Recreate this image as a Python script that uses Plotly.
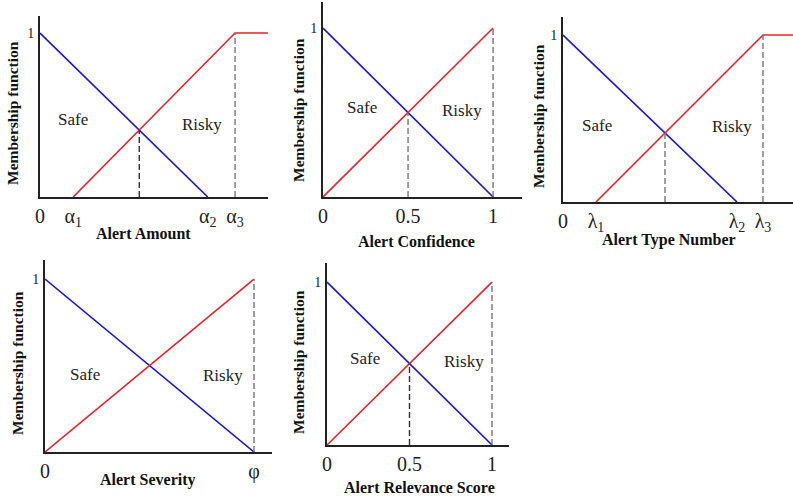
import plotly.graph_objects as go

# ---------------- data ----------------
# Panel 1: Alert Amount (alpha breakpoints)
amount_safe_x = [0.0, 0.86]
amount_safe_y = [1.0, 0.0]
amount_risky_x = [0.17, 1.0, 1.17]
amount_risky_y = [0.0, 1.0, 1.0]
amount_cross = [0.509, 0.408]
amount_ticks = [0.0, 0.17, 0.86, 1.0]
amount_ticktext = ["0", "α<sub>1</sub>", "α<sub>2</sub>", "α<sub>3</sub>"]

# Panel 2: Alert Confidence
conf_safe_x = [0.0, 1.0]
conf_safe_y = [1.0, 0.0]
conf_risky_x = [0.0, 1.0]
conf_risky_y = [0.0, 1.0]
conf_cross = [0.5, 0.5]
conf_ticks = [0.0, 0.5, 1.0]
conf_ticktext = ["0", "0.5", "1"]

# Panel 3: Alert Type Number (lambda breakpoints)
type_safe_x = [0.0, 0.87]
type_safe_y = [1.0, 0.0]
type_risky_x = [0.165, 1.0, 1.15]
type_risky_y = [0.0, 1.0, 1.0]
type_cross = [0.510, 0.413]
type_ticks = [0.0, 0.165, 0.87, 1.0]
type_ticktext = ["0", "λ<sub>1</sub>", "λ<sub>2</sub>", "λ<sub>3</sub>"]

# Panel 4: Alert Severity
sev_safe_x = [0.0, 1.0]
sev_safe_y = [1.0, 0.0]
sev_risky_x = [0.0, 1.0]
sev_risky_y = [0.0, 1.0]
sev_ticks = [0.0, 1.0]
sev_ticktext = ["0", "φ"]

# Panel 5: Alert Relevance Score
rel_safe_x = [0.0, 1.0]
rel_safe_y = [1.0, 0.0]
rel_risky_x = [0.0, 1.0]
rel_risky_y = [0.0, 1.0]
rel_cross = [0.5, 0.5]
rel_ticks = [0.0, 0.5, 1.0]
rel_ticktext = ["0", "0.5", "1"]

# ---------------- layout helpers ----------------
W, H = 793, 503
SERIF = "Liberation Serif, Times New Roman, serif"
BLUE = "#1414e6"
RED = "#ec2228"

panels = [
    dict(name="Alert Amount", safe=(amount_safe_x, amount_safe_y), risky=(amount_risky_x, amount_risky_y),
         cross=amount_cross, ticks=amount_ticks, ticktext=amount_ticktext,
         px=(40, 268), py=(197, 16), xmax=1.169, ymax=1.104, safe_lbl=(0.17, 0.47), risky_lbl=(0.83, 0.44),
         xt=(143, 233), yt=(13, 113), crosscol="#333", endcol="#777"),
    dict(name="Alert Confidence", safe=(conf_safe_x, conf_safe_y), risky=(conf_risky_x, conf_risky_y),
         cross=conf_cross, ticks=conf_ticks, ticktext=conf_ticktext,
         px=(323, 522), py=(197, 2), xmax=1.17, ymax=1.154, safe_lbl=(0.23, 0.53), risky_lbl=(0.82, 0.51),
         xt=(417, 241), yt=(298, 110), crosscol="#777", endcol="#777"),
    dict(name="Alert Type Number", safe=(type_safe_x, type_safe_y), risky=(type_risky_x, type_risky_y),
         cross=type_cross, ticks=type_ticks, ticktext=type_ticktext,
         px=(563, 793), py=(202, 17), xmax=1.15, ymax=1.108, safe_lbl=(0.17, 0.46), risky_lbl=(0.845, 0.45),
         xt=(669, 240), yt=(538, 116), crosscol="#777", endcol="#777"),
    dict(name="Alert Severity", safe=(sev_safe_x, sev_safe_y), risky=(sev_risky_x, sev_risky_y),
         cross=None, ticks=sev_ticks, ticktext=sev_ticktext,
         px=(45, 272), py=(452, 260), xmax=1.086, ymax=1.11, safe_lbl=(0.19, 0.45), risky_lbl=(0.85, 0.44),
         xt=(148, 480), yt=(17, 363), crosscol="#333", endcol="#777"),
    dict(name="Alert Relevance Score", safe=(rel_safe_x, rel_safe_y), risky=(rel_risky_x, rel_risky_y),
         cross=rel_cross, ticks=rel_ticks, ticktext=rel_ticktext,
         px=(327, 509), py=(445, 263), xmax=1.103, ymax=1.117, safe_lbl=(0.23, 0.53), risky_lbl=(0.83, 0.51),
         xt=(419, 487), yt=(298, 362), crosscol="#333", endcol="#777"),
]

fig = go.Figure()
annotations = []
shapes = []

for i, p in enumerate(panels, start=1):
    xa = "x" if i == 1 else f"x{i}"
    ya = "y" if i == 1 else f"y{i}"
    xkey = "xaxis" if i == 1 else f"xaxis{i}"
    ykey = "yaxis" if i == 1 else f"yaxis{i}"

    fig.add_trace(go.Scatter(x=p["safe"][0], y=p["safe"][1], mode="lines",
                             line=dict(color=BLUE, width=1.6), xaxis=xa, yaxis=ya,
                             showlegend=False, hoverinfo="skip"))
    fig.add_trace(go.Scatter(x=p["risky"][0], y=p["risky"][1], mode="lines",
                             line=dict(color=RED, width=1.6), xaxis=xa, yaxis=ya,
                             showlegend=False, hoverinfo="skip"))

    # dashed vertical guides: at crossing and at the point where risky reaches 1
    if p["cross"] is not None:
        shapes.append(dict(type="line", xref=xa, yref=ya, x0=p["cross"][0], x1=p["cross"][0],
                           y0=0, y1=p["cross"][1], line=dict(color=p["crosscol"], width=1.4, dash="6px,3px")))
    x_full = p["risky"][0][p["risky"][1].index(1.0)]
    shapes.append(dict(type="line", xref=xa, yref=ya, x0=x_full, x1=x_full, y0=0, y1=1.0,
                       line=dict(color=p["endcol"], width=1.4, dash="6px,3px")))

    x0p, x1p = p["px"]
    ybp, ytp = p["py"]
    fig.update_layout({
        xkey: dict(domain=[x0p / W, x1p / W], anchor=ya, range=[0, p["xmax"]], automargin=False,
                   showline=True, linecolor="#222", linewidth=2, showgrid=False, zeroline=False,
                   ticks="", tickmode="array", tickvals=p["ticks"], ticktext=p["ticktext"],
                   tickfont=dict(family=SERIF, size=20, color="#222"), ticklabelstandoff=0,
                   fixedrange=True),
        ykey: dict(domain=[1 - ybp / H, 1 - ytp / H], anchor=xa, range=[0, p["ymax"]], automargin=False,
                   showline=True, linecolor="#222", linewidth=2, showgrid=False, zeroline=False,
                   ticks="", tickmode="array", tickvals=[1.0], ticktext=["1"],
                   tickfont=dict(family=SERIF, size=14, color="#222"), ticklabelstandoff=1,
                   fixedrange=True),
    })

    annotations.append(dict(text="Safe", xref=xa, yref=ya, x=p["safe_lbl"][0], y=p["safe_lbl"][1],
                            showarrow=False, font=dict(family=SERIF, size=17, color="#222")))
    annotations.append(dict(text="Risky", xref=xa, yref=ya, x=p["risky_lbl"][0], y=p["risky_lbl"][1],
                            showarrow=False, font=dict(family=SERIF, size=17, color="#222")))
    annotations.append(dict(text="<b>" + p["name"] + "</b>", xref="paper", yref="paper",
                            x=p["xt"][0] / W, y=1 - p["xt"][1] / H, showarrow=False,
                            xanchor="center", yanchor="middle",
                            font=dict(family=SERIF, size=16, color="#111")))
    annotations.append(dict(text="<b>Membership function</b>", xref="paper", yref="paper",
                            x=p["yt"][0] / W, y=1 - p["yt"][1] / H, showarrow=False, textangle=-90,
                            xanchor="center", yanchor="middle",
                            font=dict(family=SERIF, size=15.5, color="#111")))

fig.update_layout(width=W, height=H, margin=dict(l=0, r=0, t=0, b=0, autoexpand=False),
                  paper_bgcolor="white", plot_bgcolor="white",
                  annotations=annotations, shapes=shapes, showlegend=False)

fig.write_html("out.html", config={"displayModeBar": False},
               post_script="document.body.style.margin='0';")
